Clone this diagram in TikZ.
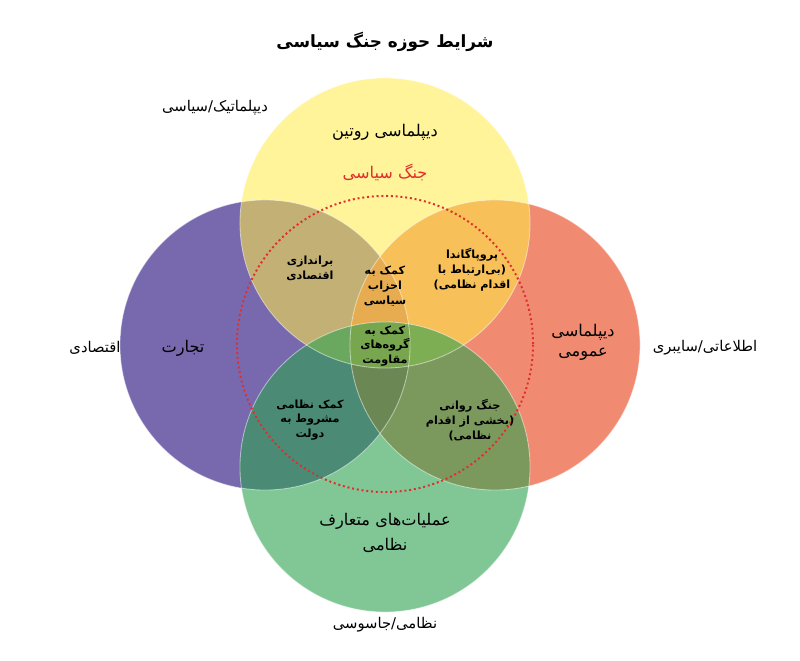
\documentclass[tikz,border=0pt]{standalone}
\usepackage{fontspec}
\newfontfamily\arabicfont[Script=Arabic]{DejaVu Sans}
\TeXXeTstate=1
\usetikzlibrary{positioning}
\definecolor{venyellow}{RGB}{255,236,70}
\definecolor{venpurple}{RGB}{120,105,175}
\definecolor{venorange}{RGB}{234,91,55}
\definecolor{vengreen}{RGB}{46,163,80}
\definecolor{venred}{RGB}{225,45,45}
\tikzset
{
    setcircle/.style = {draw=white!85!black, line width=0.6pt},
    mainlabel/.style = {align=center, font=\arabicfont\fontsize{11.5}{14}\selectfont},
    overlabel/.style = {align=center, font=\arabicfont\bfseries\fontsize{8}{10.5}\selectfont},
    outlabel/.style  = {align=center, font=\arabicfont\fontsize{10.5}{13}\selectfont}
}
\newcommand{\fa}[1]{\beginR #1\endR}

\begin{document}
\begin{tikzpicture}[x=0.025cm, y=-0.025cm]
\useasboundingbox (0,0) rectangle (800,661);
\fill[white] (0,0) rectangle (800,661);

\fill[venpurple] (265,345) circle[radius=3.625cm];
\fill[venorange, fill opacity=0.7] (495,345) circle[radius=3.625cm];
\fill[venyellow, fill opacity=0.55] (385,223) circle[radius=3.625cm];
\fill[vengreen, fill opacity=0.6]  (385,467) circle[radius=3.625cm];
\foreach \cx/\cy in {265/345, 495/345, 385/223, 385/467}
    \draw[white, opacity=0.5, line width=0.6pt] (\cx,\cy) circle[radius=3.625cm];
\draw[venred, line width=1.4pt, dotted] (385,344) circle[radius=3.7cm];

%% titles
\node (title)   [mainlabel, font=\arabicfont\bfseries\fontsize{12}{14}\selectfont] at (385,42) {\fa{شرایط حوزه جنگ سیاسی}};
\node (dipl)    [outlabel] at (215,108) {\fa{دیپلماتیک/سیاسی}};
\node (econ)    [outlabel] at (95,348)  {\fa{اقتصادی}};
\node (info)    [outlabel] at (705,348) {\fa{اطلاعاتی/سایبری}};
\node (mil)     [outlabel] at (385,625) {\fa{نظامی/جاسوسی}};

%% circle labels
\node (routine) [mainlabel] at (385,132) {\fa{دیپلماسی روتین}};
\node (polwar)  [mainlabel, text=venred, below=0.35cm of routine] {\fa{جنگ سیاسی}};
\node (trade)   [mainlabel] at (183,348) {\fa{تجارت}};
\node (public)  [mainlabel] at (583,342) {\fa{دیپلماسی}\\\fa{عمومی}};
\node (conv)    [mainlabel, text depth=0pt] at (385,532) {\fa{عملیات‌های متعارف}\\[4pt]\fa{نظامی}};

%% overlaps
\node (subv)    [overlabel] at (310,268) {\fa{براندازی}\\\fa{اقتصادی}};
\node (parties) [overlabel] at (385,286) {\fa{کمک به}\\\fa{احزاب}\\\fa{سیاسی}};
\node (propa)   [overlabel] at (472,270) {\fa{پروپاگاندا}\\\fa{(بی‌ارتباط با}\\\fa{اقدام نظامی)}};
\node (resist)  [overlabel] at (385,346) {\fa{کمک به}\\\fa{گروه‌های}\\\fa{مقاومت}};
\node (milaid)  [overlabel] at (310,420) {\fa{کمک نظامی}\\\fa{مشروط به}\\\fa{دولت}};
\node (psy)     [overlabel] at (470,420) {\fa{جنگ روانی}\\\fa{(بخشی از اقدام}\\\fa{نظامی)}};
\end{tikzpicture}
\end{document}
